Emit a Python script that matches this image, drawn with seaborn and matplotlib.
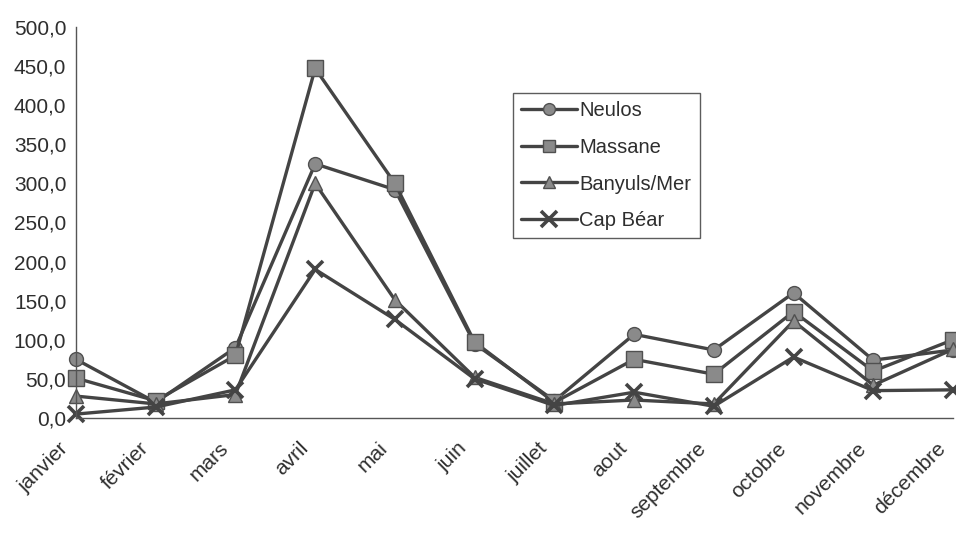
import matplotlib
matplotlib.use("Agg")
import matplotlib.pyplot as plt
import matplotlib.transforms as mtransforms
from matplotlib.ticker import FuncFormatter
import numpy as np
import pandas as pd
import seaborn as sns

# Monthly values for each station
mois = ["janvier", "février", "mars", "avril", "mai", "juin", "juillet",
        "aout", "septembre", "octobre", "novembre", "décembre"]
neulos = [75, 20, 90, 325, 292, 95, 22, 107, 87, 160, 74, 87]
massane = [51, 22, 80, 447, 300, 97, 20, 75, 56, 136, 60, 100]
banyuls = [28, 18, 30, 300, 151, 52, 18, 23, 18, 124, 42, 88]
cap_bear = [5, 14, 36, 190, 126, 50, 16, 33, 15, 78, 35, 36]
stations = ["Neulos", "Massane", "Banyuls/Mer", "Cap Béar"]
y_ticks = np.arange(0, 501, 50)

series = [neulos, massane, banyuls, cap_bear]
df = pd.DataFrame({
    "mois": mois * len(stations),
    "valeur": [v for s in series for v in s],
    "station": [st for st in stations for _ in mois],
})

sns.set_theme(style="white")
plt.rcParams["font.family"] = ["Liberation Sans", "DejaVu Sans"]

TXT = "#2e2e2e"
LINE = "#444444"
FILL = "#8a8a8a"

fig = plt.figure(figsize=(9.56, 5.33), dpi=100)
ax = fig.add_axes([76 / 956, 1 - 418 / 533, (953 - 76) / 956, (418 - 27) / 533])

markers = {"Neulos": "o", "Massane": "s", "Banyuls/Mer": "^", "Cap Béar": "X"}
palette = {s: LINE for s in stations}
sns.lineplot(data=df, x="mois", y="valeur", hue="station", style="station",
             markers=markers, dashes=False, palette=palette, ax=ax,
             linewidth=2.4, markersize=10, markeredgecolor="#505050",
             markeredgewidth=1.0, sort=False, legend=True)


def style_marker(ln, scale=1.0):
    """Grey marker faces; the cross drawn as a thick line-art x."""
    m = ln.get_marker()
    if m == "X":
        ln.set_marker("x")
        ln.set_markeredgewidth(2.6)
        ln.set_markeredgecolor(LINE)
        ln.set_markersize(11 * scale)
    elif m in ("o", "s", "^"):
        ln.set_markerfacecolor(FILL)
        ln.set_markeredgecolor("#505050")
        ln.set_markersize((11 if m == "s" else 10) * scale)
    ln.set_color(LINE)


for ln in ax.lines:
    style_marker(ln)
    ln.set_clip_on(False)

ax.set_xlim(0, len(mois) - 1)
ax.set_ylim(0, 500)
ax.set_yticks(y_ticks)
ax.yaxis.set_major_formatter(FuncFormatter(lambda v, p: f"{v:.1f}".replace(".", ",")))
ax.set_xlabel("")
ax.set_ylabel("")

for side in ["top", "right"]:
    ax.spines[side].set_visible(False)
for side in ["left", "bottom"]:
    ax.spines[side].set_color("#555555")
    ax.spines[side].set_linewidth(1.0)

ax.tick_params(axis="both", direction="inout", length=8, width=1.0,
               color="#555555", labelcolor=TXT, labelsize=15)
ax.tick_params(axis="y", pad=3)
ax.tick_params(axis="x", pad=11, labelsize=15)

offset = mtransforms.ScaledTranslation(-17 / 100, 0, fig.dpi_scale_trans)
for lab in ax.get_xticklabels():
    lab.set_rotation(45)
    lab.set_ha("right")
    lab.set_va("top")
    lab.set_rotation_mode("anchor")
    lab.set_transform(lab.get_transform() + offset)

handles, labels = ax.get_legend_handles_labels()
for h in handles:
    style_marker(h, scale=0.85)
leg = ax.legend(handles, labels, loc="upper left",
                bbox_to_anchor=(513 / 956, 1 - 93 / 533),
                bbox_transform=fig.transFigure, frameon=True, fancybox=False,
                edgecolor="#333333", fontsize=14.5, handlelength=2.8,
                handletextpad=0.1, labelspacing=0.88, borderpad=0.4,
                borderaxespad=0)
leg.get_frame().set_linewidth(1.0)
for t in leg.get_texts():
    t.set_color(TXT)

fig.savefig("out.png", dpi=100, facecolor="white")
